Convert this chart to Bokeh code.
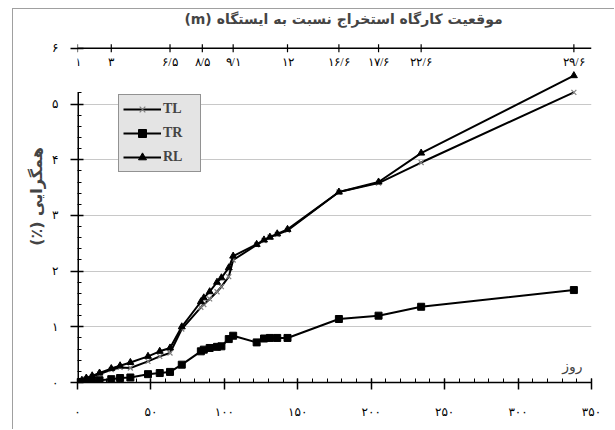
import math
from bokeh.plotting import figure
from bokeh.models import (Range1d, LinearAxis, FixedTicker, Label, LabelSet,
                          ColumnDataSource, Grid, Span, Title)
from bokeh.embed import file_html
from bokeh.resources import INLINE

# ---------------- data ----------------
days = [0, 3, 6, 10, 15, 23, 29, 36, 48, 56, 63, 71, 84, 86, 90, 95, 98,
        103, 106, 122, 127, 131, 136, 143, 178, 205, 234, 338]
tl = [0.00, 0.03, 0.07, 0.10, 0.15, 0.23, 0.27, 0.26, 0.38, 0.47, 0.53, 0.96,
      1.35, 1.40, 1.50, 1.63, 1.72, 1.90, 2.20, 2.47, 2.55, 2.61, 2.66, 2.73,
      3.42, 3.58, 3.95, 5.21]
tr = [0.00, 0.01, 0.02, 0.03, 0.04, 0.06, 0.08, 0.09, 0.15, 0.17, 0.19, 0.32,
      0.56, 0.59, 0.62, 0.64, 0.65, 0.78, 0.84, 0.72, 0.79, 0.80, 0.80, 0.80,
      1.14, 1.20, 1.36, 1.66]
rl = [0.00, 0.04, 0.08, 0.12, 0.17, 0.25, 0.30, 0.36, 0.47, 0.56, 0.62, 1.00,
      1.45, 1.52, 1.63, 1.80, 1.88, 2.06, 2.27, 2.48, 2.56, 2.61, 2.67, 2.75,
      3.42, 3.60, 4.12, 5.51]

x_ticks = [0, 50, 100, 150, 200, 250, 300, 350]
x_tick_labels = ["۰", "۵۰", "۱۰۰", "۱۵۰", "۲۰۰", "۲۵۰", "۳۰۰", "۳۵۰"]
y_ticks = [0, 1, 2, 3, 4, 5, 6]
y_tick_labels = ["۰", "۱", "۲", "۳", "۴", "۵", "۶"]
top_days = [0, 23, 63, 85, 106, 143, 178, 205, 234, 338]
top_labels = ["۱", "۳", "۶/۵", "۸/۵", "۹/۱", "۱۲", "۱۶/۶", "۱۷/۶", "۲۲/۶", "۲۹/۶"]

title_text = "(m) موقعیت کارگاه استخراج نسبت به ایستگاه"
y_title = "(٪) همگرایی"
x_title = "روز"

FA = "DejaVu Sans"
Y_TOP = y_ticks[-1]          # level of the face-position axis
Y_AXIS_END = 5.2             # where the left axis line stops

# frame spans from the title row down to the x axis
p = figure(width=602, height=421, x_range=Range1d(0, 350), y_range=Range1d(0, 6.68),
           output_backend="svg", toolbar_location=None,
           x_axis_location=None, y_axis_location=None,
           min_border_left=64, min_border_right=24, min_border_top=1,
           min_border_bottom=48)
p.margin = (8, 0, 0, 12)
p.styles = {"border-left": "1px solid #a0a0a0", "border-top": "1px solid #a0a0a0"}
p.outline_line_color = None
p.background_fill_color = "white"
p.border_fill_color = "white"
p.grid.visible = False

# bottom axis
xa = LinearAxis(ticker=FixedTicker(ticks=x_ticks, minor_ticks=list(range(0, 351, 10))),
                major_label_overrides={t: l for t, l in zip(x_ticks, x_tick_labels)})
xa.axis_line_width = 1.5
xa.major_tick_in = 4
xa.major_tick_out = 7
xa.minor_tick_in = 4
xa.minor_tick_out = 0
xa.major_tick_line_width = 1.5
xa.major_label_standoff = 15
xa.major_label_text_font = FA
xa.major_label_text_font_size = "12px"
xa.major_label_text_color = "black"
p.add_layout(xa, "below")

# left axis (line drawn separately so that it stops below the top labels)
ya = LinearAxis(ticker=FixedTicker(ticks=y_ticks,
                                   minor_ticks=[round(0.2 * i, 1) for i in range(27)]),
                major_label_overrides={t: l for t, l in zip(y_ticks, y_tick_labels)})
ya.axis_line_color = None
ya.major_tick_in = 6
ya.major_tick_out = 7
ya.minor_tick_in = 4
ya.minor_tick_out = 0
ya.major_tick_line_width = 1.5
ya.major_label_standoff = 12
ya.major_label_text_font = FA
ya.major_label_text_font_size = "12px"
ya.major_label_text_color = "black"
p.add_layout(ya, "left")
p.segment(x0=[x_ticks[0]], y0=[y_ticks[0]], x1=[x_ticks[0]], y1=[Y_AXIS_END],
          line_color="black", line_width=3)

# y title
p.add_layout(Title(text=y_title, align="center", standoff=8,
                   text_font=FA, text_font_style="bold", text_font_size="16px"), "left")

# horizontal grid
p.add_layout(Grid(dimension=1, ticker=FixedTicker(ticks=y_ticks[1:-1]),
                  grid_line_color="#c8c8c8", grid_line_width=1))

# top axis (face position): line, ticks and labels
p.add_layout(Span(location=Y_TOP, dimension="width", line_color="black", line_width=1.5))
p.scatter(top_days, [Y_TOP] * len(top_days), marker="dash", angle=math.pi / 2,
          size=8, line_color="black", line_width=1.2)
src = ColumnDataSource(dict(x=top_days, y=[Y_TOP] * len(top_days), text=top_labels))
p.add_layout(LabelSet(x="x", y="y", text="text", source=src, y_offset=-7,
                      text_align="center", text_baseline="top",
                      text_font=FA, text_font_size="12px", text_color="black"))

# chart title, above the face-position axis
p.add_layout(Label(x=(x_ticks[0] + x_ticks[-1]) / 2, y=Y_TOP, text=title_text,
                   x_offset=9, y_offset=29, text_align="center", text_baseline="middle",
                   text_font=FA, text_font_style="bold", text_font_size="14px"))

# series
p.line(days, tl, color="black", line_width=2, legend_label="TL")
p.scatter(days, tl, marker="x", size=7, line_color="#808080", line_width=1.2,
          legend_label="TL")
p.line(days, tr, color="black", line_width=2, legend_label="TR")
p.scatter(days, tr, marker="square", size=7, color="black", legend_label="TR")
p.line(days, rl, color="black", line_width=2, legend_label="RL")
p.scatter(days, rl, marker="triangle", size=7, color="black", legend_label="RL")

lg = p.legend[0]
lg.location = (41, 210)
lg.padding = 4
lg.spacing = 4
lg.margin = 0
lg.label_height = 20
lg.glyph_height = 20
lg.glyph_width = 38
lg.label_standoff = 2
lg.label_width = 33
lg.label_text_font = "Liberation Serif"
lg.label_text_font_style = "bold"
lg.label_text_font_size = "14px"
lg.background_fill_color = "#e4e4e4"
lg.background_fill_alpha = 1
lg.border_line_color = "#404040"
lg.border_line_width = 1

# x-axis title
p.add_layout(Label(x=x_ticks[-1], y=y_ticks[0], text=x_title, x_offset=-9, y_offset=9,
                   text_align="right", text_baseline="bottom",
                   text_font=FA, text_font_size="14px"))

open("out.html", "w").write(file_html(p, INLINE))
